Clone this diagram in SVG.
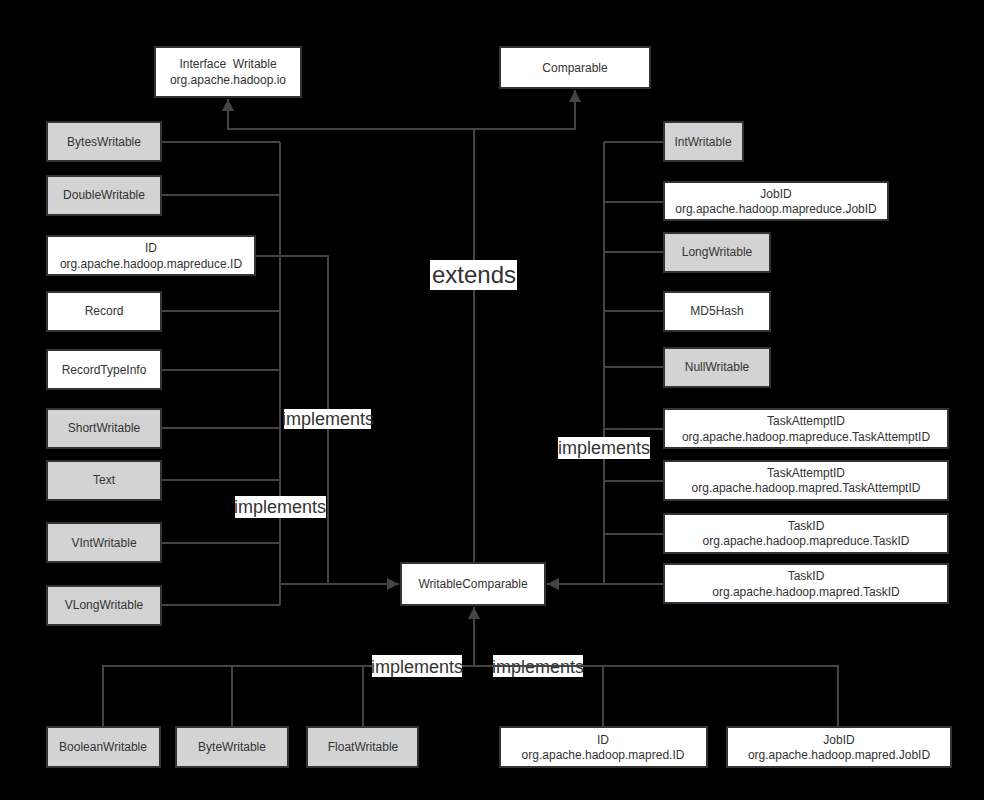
<svg xmlns="http://www.w3.org/2000/svg" width="984" height="800" viewBox="0 0 984 800">
<style>
.n rect{stroke:#333;stroke-width:2}
.w rect{fill:#fff}
.g rect{fill:#d3d3d3}
.n text{font-family:"Liberation Sans",Arial,sans-serif;font-size:12px;fill:#333;text-anchor:middle}
.c{fill:none;stroke:#444;stroke-width:2}
.lbl rect{fill:#fff}
.lbl text{font-family:"Liberation Sans",Arial,sans-serif;font-size:18px;fill:#333;text-anchor:middle}
</style>
<defs>
<marker id="ar" viewBox="0 0 10 10" refX="10" refY="5" markerWidth="6" markerHeight="6" orient="auto" markerUnits="strokeWidth">
<path d="M0,0 L10,5 L0,10 z" fill="#444"/>
</marker>
</defs>
<rect width="984" height="800" fill="#000"/>
<g id="connectors">
<path class="c" d="M474,563 V129 H228 V99" marker-end="url(#ar)"/>
<path class="c" d="M474,129 H575 V90" marker-end="url(#ar)"/>
<path class="c" d="M161,142 H280 M161,195 H280 M161,311 H280 M161,370 H280 M161,428 H280 M161,480 H280 M161,543 H280 M161,605 H280 M280,142 V605"/>
<path class="c" d="M255,256 H328 V584"/>
<path class="c" d="M280,584 H399" marker-end="url(#ar)"/>
<path class="c" d="M664,142 H604 M664,202 H604 M664,252 H604 M664,311 H604 M664,367 H604 M664,429 H604 M664,481 H604 M664,534 H604 M664,584 H604 M604,142 V584"/>
<path class="c" d="M604,584 H547" marker-end="url(#ar)"/>
<path class="c" d="M474,666 V607" marker-end="url(#ar)"/>
<g class="lbl"><rect x="493" y="655" width="90" height="22"/><text x="538" y="673">implements</text></g>
<path class="c" d="M103,727 V666 H838 V727 M232,666 V727 M363,666 V727 M603,666 V727"/>
<g class="lbl"><rect x="430" y="260" width="87" height="30"/><text x="474" y="283" style="font-size:24px">extends</text></g>
<g class="lbl"><rect x="284" y="409" width="87" height="20"/><text x="328" y="425">implements</text></g>
<g class="lbl"><rect x="235" y="496" width="91" height="22"/><text x="280" y="513">implements</text></g>
<g class="lbl"><rect x="558" y="437" width="92" height="22"/><text x="604" y="454">implements</text></g>
<g class="lbl"><rect x="372" y="655" width="90" height="22"/><text x="417" y="673">implements</text></g>
</g>
<g id="writable" class="n w"><rect x="155" y="47" width="146" height="50"/><text x="228" y="68">Interface&#160; Writable</text><text x="228" y="84">org.apache.hadoop.io</text></g>
<g id="comparable" class="n w"><rect x="500" y="47" width="150" height="41"/><text x="575" y="72">Comparable</text></g>
<g id="writablecomparable" class="n w"><rect x="401" y="563" width="144" height="42"/><text x="473" y="588">WritableComparable</text></g>
<g id="byteswritable" class="n g"><rect x="47" y="122" width="114" height="39"/><text x="104" y="146">BytesWritable</text></g>
<g id="doublewritable" class="n g"><rect x="47" y="176" width="114" height="39"/><text x="104" y="199">DoubleWritable</text></g>
<g id="id-mapreduce" class="n w"><rect x="47" y="236" width="208" height="39"/><text x="151" y="252">ID</text><text x="151" y="268">org.apache.hadoop.mapreduce.ID</text></g>
<g id="record" class="n w"><rect x="47" y="292" width="114" height="39"/><text x="104" y="315">Record</text></g>
<g id="recordtypeinfo" class="n w"><rect x="47" y="350" width="114" height="39"/><text x="104" y="374">RecordTypeInfo</text></g>
<g id="shortwritable" class="n g"><rect x="47" y="409" width="114" height="39"/><text x="104" y="432">ShortWritable</text></g>
<g id="text" class="n g"><rect x="47" y="461" width="114" height="39"/><text x="104" y="484">Text</text></g>
<g id="vintwritable" class="n g"><rect x="47" y="523" width="114" height="39"/><text x="104" y="547">VIntWritable</text></g>
<g id="vlongwritable" class="n g"><rect x="47" y="586" width="114" height="39"/><text x="104" y="609">VLongWritable</text></g>
<g id="intwritable" class="n g"><rect x="664" y="122" width="79" height="39"/><text x="703" y="146">IntWritable</text></g>
<g id="jobid-mapreduce" class="n w"><rect x="664" y="182" width="224" height="38"/><text x="776" y="198">JobID</text><text x="776" y="213">org.apache.hadoop.mapreduce.JobID</text></g>
<g id="longwritable" class="n g"><rect x="664" y="233" width="106" height="39"/><text x="717" y="256">LongWritable</text></g>
<g id="md5hash" class="n w"><rect x="664" y="292" width="106" height="39"/><text x="717" y="315">MD5Hash</text></g>
<g id="nullwritable" class="n g"><rect x="664" y="348" width="106" height="39"/><text x="717" y="371">NullWritable</text></g>
<g id="taskattemptid-mapreduce" class="n w"><rect x="664" y="409" width="284" height="39"/><text x="806" y="425">TaskAttemptID</text><text x="806" y="441">org.apache.hadoop.mapreduce.TaskAttemptID</text></g>
<g id="taskattemptid-mapred" class="n w"><rect x="664" y="461" width="284" height="39"/><text x="806" y="477">TaskAttemptID</text><text x="806" y="492">org.apache.hadoop.mapred.TaskAttemptID</text></g>
<g id="taskid-mapreduce" class="n w"><rect x="664" y="514" width="284" height="39"/><text x="806" y="530">TaskID</text><text x="806" y="545">org.apache.hadoop.mapreduce.TaskID</text></g>
<g id="taskid-mapred" class="n w"><rect x="664" y="564" width="284" height="39"/><text x="806" y="580">TaskID</text><text x="806" y="596">org.apache.hadoop.mapred.TaskID</text></g>
<g id="booleanwritable" class="n g"><rect x="47" y="727" width="113" height="40"/><text x="103" y="751">BooleanWritable</text></g>
<g id="bytewritable" class="n g"><rect x="176" y="727" width="112" height="40"/><text x="232" y="751">ByteWritable</text></g>
<g id="floatwritable" class="n g"><rect x="307" y="727" width="111" height="40"/><text x="363" y="751">FloatWritable</text></g>
<g id="id-mapred" class="n w"><rect x="500" y="727" width="207" height="40"/><text x="603" y="744">ID</text><text x="603" y="759">org.apache.hadoop.mapred.ID</text></g>
<g id="jobid-mapred" class="n w"><rect x="727" y="727" width="224" height="40"/><text x="839" y="744">JobID</text><text x="839" y="759">org.apache.hadoop.mapred.JobID</text></g>
</svg>
